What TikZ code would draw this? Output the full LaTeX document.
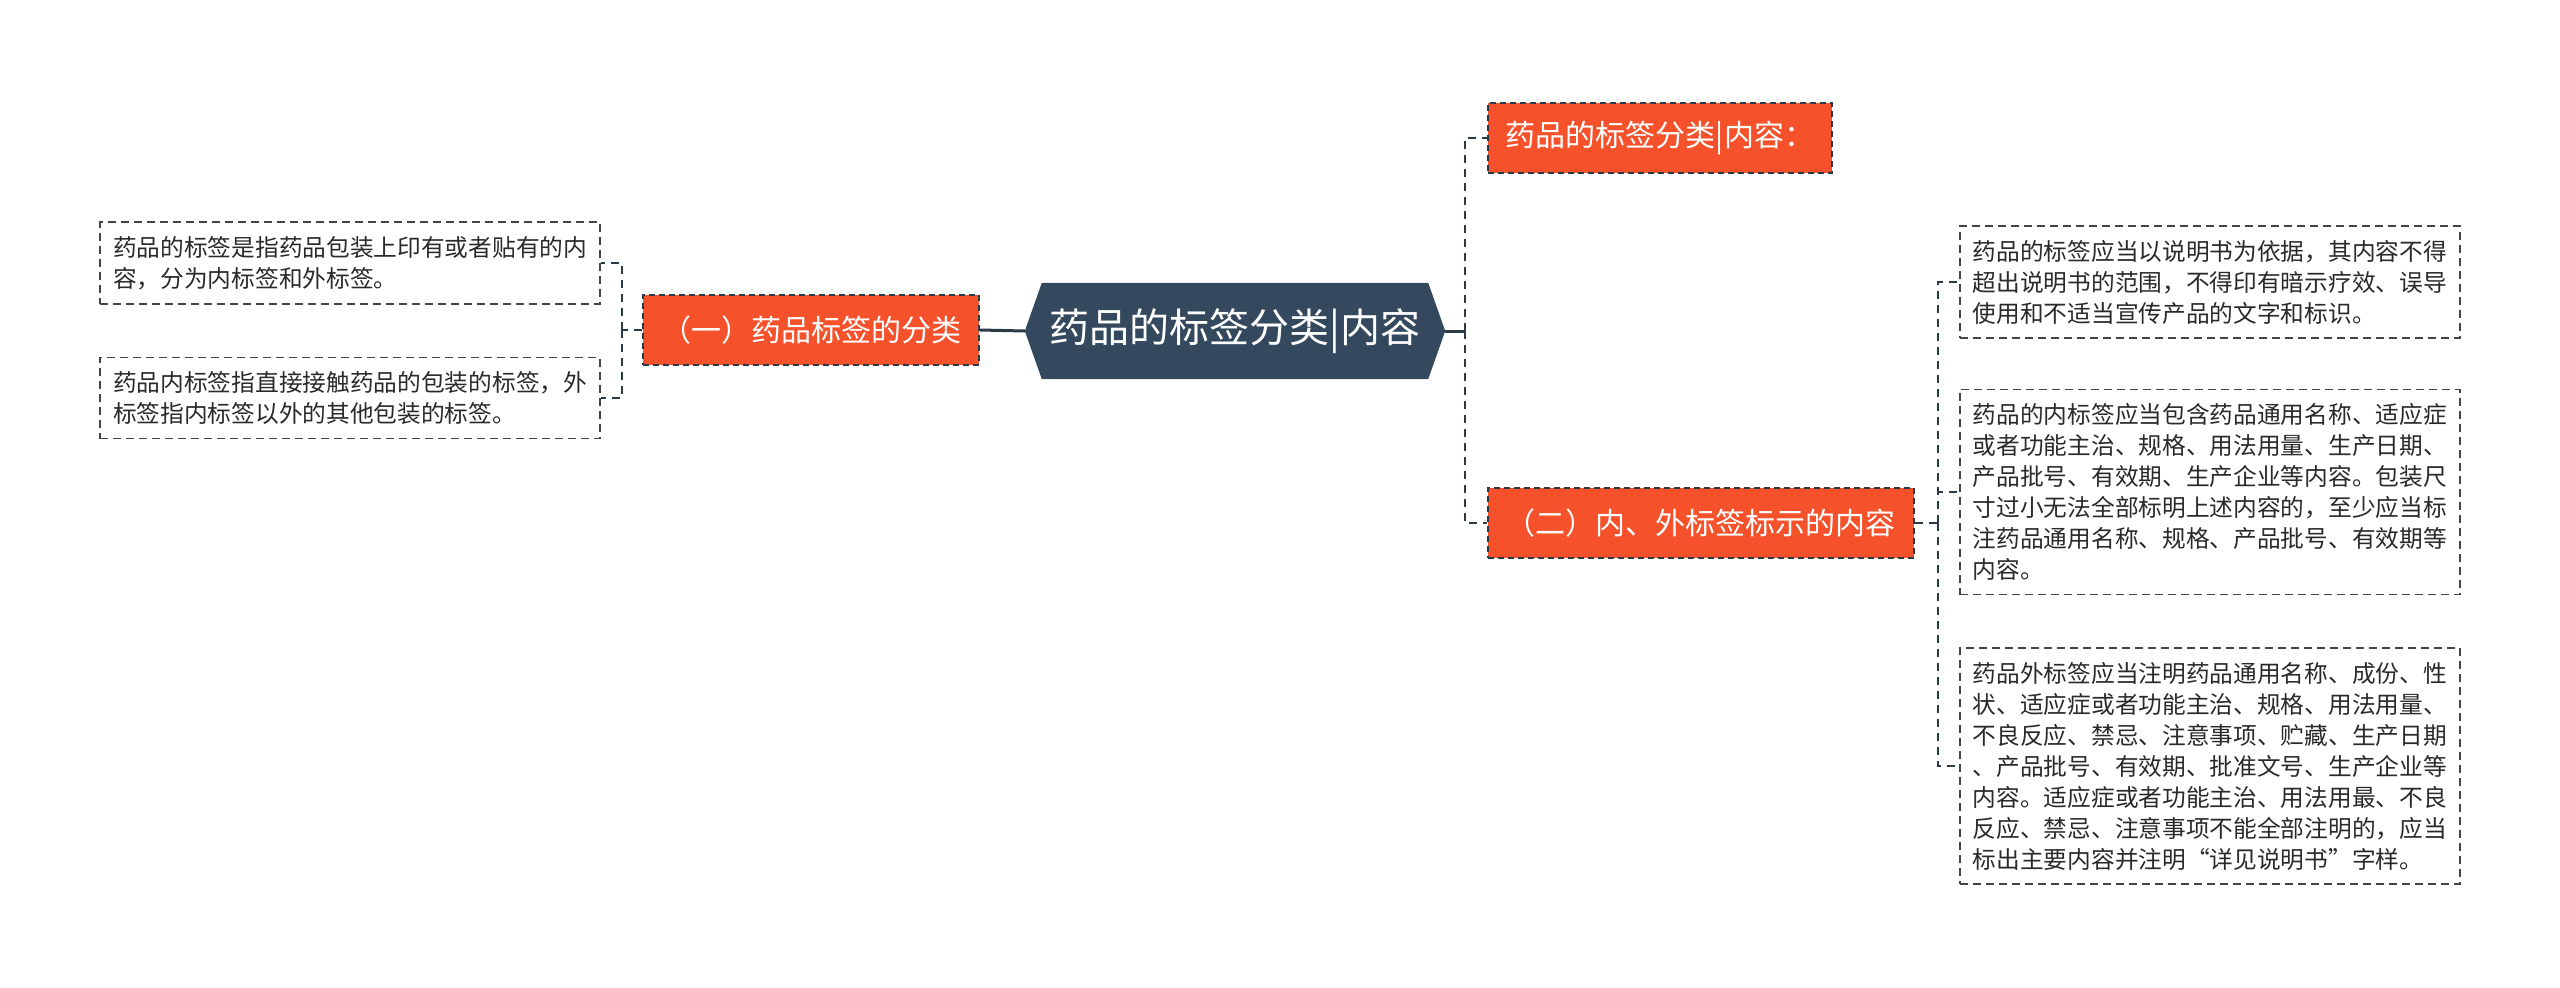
\documentclass[tikz,border=0pt]{standalone}
\usepackage{fontspec}
\setmainfont{Noto Sans CJK SC}
\usetikzlibrary{backgrounds}
\definecolor{orangebox}{HTML}{F5522C}
\definecolor{darkhex}{HTML}{34495E}
\definecolor{linec}{HTML}{2B3A48}
\definecolor{leafborder}{HTML}{444444}
\definecolor{textc}{HTML}{2A2A2A}
\begin{document}
\begin{tikzpicture}[x=1pt,y=-1pt,
  cat/.style={fill=orangebox, draw=linec, dash pattern=on 6pt off 4pt, line width=1.8pt,
    text=white, font=\fontsize{30}{36}\selectfont, inner xsep=18pt, inner ysep=0pt, minimum height=70pt},
  leaf/.style={fill=white, draw=leafborder, dash pattern=on 8pt off 5pt, line width=1.7pt,
    text=textc, align=left, font=\fontsize{23.7}{31}\selectfont, inner xsep=13pt, inner ysep=14pt},
  conn/.style={draw=linec, line width=2.6pt, dash pattern=on 8pt off 6pt},
  rootline/.style={draw=linec, line width=3pt}]
\useasboundingbox (0,0) rectangle (2560,988);

% central topic
\node[text=white, font=\fontsize{40}{48}\selectfont, minimum width=420pt, minimum height=96pt, inner sep=0pt] (root) at (1235,331) {药品的标签分类|内容};
\begin{scope}[on background layer]
  \fill[darkhex] (root.west) -- ([xshift=17pt]root.north west) -- ([xshift=-17pt]root.north east)
    -- (root.east) -- ([xshift=-17pt]root.south east) -- ([xshift=17pt]root.south west) -- cycle;
\end{scope}

% main branches
\node[cat, anchor=east] (c1) at (980,330) {（一）药品标签的分类};
\node[cat, anchor=west] (c0) at (1487,138) {药品的标签分类|内容：};
\node[cat, anchor=west] (c2) at (1487,523) {（二）内、外标签标示的内容};

% left leaves
\node[leaf, anchor=east] (l1) at (601,263) {药品的标签是指药品包装上印有或者贴有的内\\容，分为内标签和外标签。};
\node[leaf, anchor=east] (l2) at (601,398) {药品内标签指直接接触药品的包装的标签，外\\标签指内标签以外的其他包装的标签。};

% right leaves
\node[leaf, anchor=west] (r1) at (1959,282) {药品的标签应当以说明书为依据，其内容不得\\超出说明书的范围，不得印有暗示疗效、误导\\使用和不适当宣传产品的文字和标识。};
\node[leaf, anchor=west] (r2) at (1959,492) {药品的内标签应当包含药品通用名称、适应症\\或者功能主治、规格、用法用量、生产日期、\\产品批号、有效期、生产企业等内容。包装尺\\寸过小无法全部标明上述内容的，至少应当标\\注药品通用名称、规格、产品批号、有效期等\\内容。};
\node[leaf, anchor=west] (r3) at (1959,766) {药品外标签应当注明药品通用名称、成份、性\\状、适应症或者功能主治、规格、用法用量、\\不良反应、禁忌、注意事项、贮藏、生产日期\\、产品批号、有效期、批准文号、生产企业等\\内容。适应症或者功能主治、用法用最、不良\\反应、禁忌、注意事项不能全部注明的，应当\\标出主要内容并注明“详见说明书”字样。};

% connectors
\coordinate (tr) at (1465,331);
\coordinate (lb) at (622,330);
\coordinate (rb) at (1938,523);
\draw[rootline] (root.west) -- (c1.east);
\draw[rootline] (root.east) -- (tr);
\draw[conn] (tr) |- (c0.west);
\draw[conn] (tr) |- (c2.west);
\draw[conn] (c1.west) -- (lb);
\draw[conn] (lb) |- (l1.east);
\draw[conn] (lb) |- (l2.east);
\draw[conn] (c2.east) -- (rb);
\draw[conn] (rb) |- (r1.west);
\draw[conn] (rb) |- (r2.west);
\draw[conn] (rb) |- (r3.west);
\end{tikzpicture}
\end{document}
